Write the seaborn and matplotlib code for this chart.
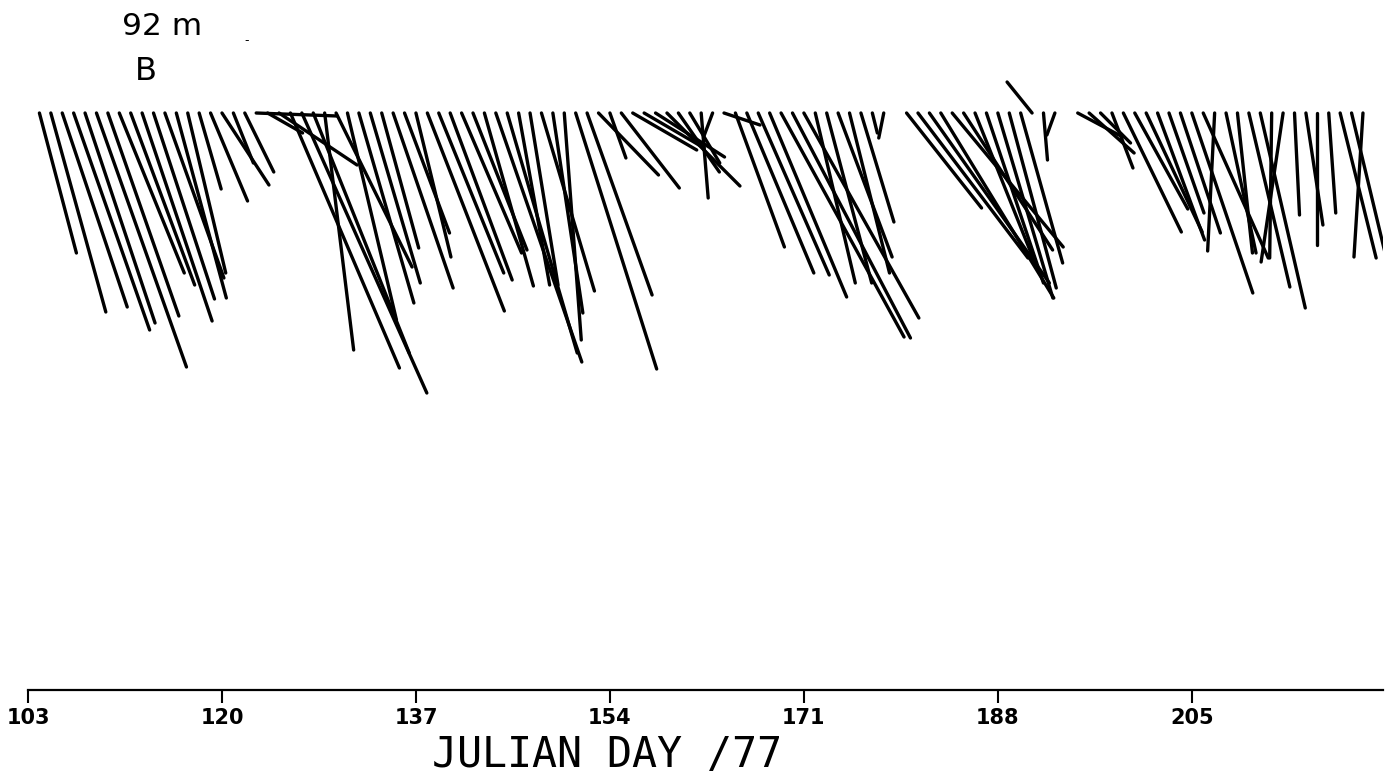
import matplotlib
matplotlib.use("Agg")
import matplotlib.pyplot as plt
import numpy as np
import pandas as pd
import seaborn as sns

# ---- data: daily current vectors (east u, north v) in cm/s at 92 m, station B ----
days_a = [104, 105, 106, 107, 108, 109, 110, 111, 112, 113, 114, 115, 116, 117, 118, 119, 120, 121, 122]
u_a = [3.7, 5.5, 6.5, 7.6, 7.0, 9.0, 7.1, 6.5, 6.4, 7.0, 6.1, 5.9, 5.0, 3.8, 2.2, 3.7, 4.7, 2.0, 2.9]
v_a = [-14.0, -19.9, -19.4, -21.7, -21.0, -25.4, -20.3, -16.0, -17.2, -20.8, -18.6, -16.5, -18.5, -16.0,
       -7.6, -8.8, -7.2, -5.0, -5.9]

days_b = [123, 124, 125, 126, 127, 128, 129, 130, 131, 132, 133, 134, 135, 136, 137, 138, 139, 140, 141, 142,
          143, 144, 145, 146, 147, 148, 149, 150, 151, 152, 153, 154, 155, 156, 157, 158, 159, 160, 161, 162,
          163, 164, 165, 166, 167, 168, 169, 170, 171, 172, 173, 174, 175, 176, 177, 178]
u_b = [8.1, 3.5, 7.8, 10.9, 12.5, 9.6, 2.9, 7.6, 4.9, 5.5, 5.0, 3.7, 6.0, 4.5, 3.5, 7.7, 6.5, 6.2, 6.0, 5.4,
       4.9, 8.6, 7.0, 3.1, 2.8, 5.3, 3.0, 1.7, 8.1, 6.5, 6.0, 1.6, 5.8, 6.4, 6.0, 6.9, 7.3, 4.1, 3.0, 0.7,
       -0.9, 3.6, 4.9, 6.7, 7.1, 7.7, 12.3, 11.8, 11.5, 4.0, 4.5, 5.4, 4.0, 3.3, 0.5, -0.5]
v_b = [-0.3, -2.0, -5.2, -25.5, -28.0, -24.0, -23.7, -15.4, -20.7, -19.0, -17.0, -13.5, -17.5, -12.0, -14.4,
       -19.8, -16.0, -16.7, -14.0, -13.7, -17.3, -24.9, -24.0, -17.2, -17.2, -17.8, -20.0, -22.7, -25.6,
       -18.2, -6.2, -4.5, -7.5, -3.7, -3.5, -4.4, -7.3, -5.9, -5.0, -8.5, -2.4, -1.2, -13.4, -16.0, -16.2,
       -18.4, -22.4, -22.5, -20.5, -17.0, -17.0, -14.4, -16.0, -10.9, -2.0, -2.5]

days_c = [180, 181, 182, 183, 184, 185, 186, 187, 188, 189, 190, 191, 192, 193]
u_c = [7.5, 11.0, 12.0, 11.3, 11.1, 8.9, 6.0, 5.7, 5.5, 4.7, 4.2, -2.5, 0.4, -0.8]
v_c = [-9.5, -14.5, -17.0, -18.5, -13.4, -13.7, -15.0, -17.0, -18.5, -17.5, -15.0, 3.1, -4.7, -2.2]

days_d = [195, 196, 197, 198, 199, 200, 201, 202, 203, 204, 205, 206, 207, 208, 209, 210, 211, 212, 213,
          214, 215, 216, 217, 218, 219, 220]
u_d = [4.5, 4.5, 3.0, 2.1, 5.8, 5.3, 5.6, 4.7, 3.5, 4.0, 6.1, 6.5, -0.7, 3.0, 1.5, 4.1, 4.5, -0.2, -2.2,
       0.5, 1.7, 0.0, 0.7, 3.6, 3.4, -0.9]
v_d = [-2.4, -4.0, -3.0, -5.5, -11.9, -9.6, -11.9, -12.7, -10.0, -12.0, -18.0, -14.5, -13.8, -14.0, -14.0,
       -17.4, -19.5, -14.5, -14.9, -10.2, -11.2, -13.2, -10.0, -14.5, -14.2, -14.4]

tick_days = [103, 120, 137, 154, 171, 188, 205]
tick_labels = ["103", "120", "137", "154", "171", "188", "205"]

# ---- build long-form table of stick segments ----
days = days_a + days_b + days_c + days_d
u = u_a + u_b + u_c + u_d
v = v_a + v_b + v_c + v_d

W, H = 1390, 774
px_per_day = 11.41
px_per_cms = 10.0
k = px_per_cms / px_per_day  # days of x-axis per cm/s of east velocity

rows = []
for i, (d, ue, vn) in enumerate(zip(days, u, v)):
    rows.append({"id": i, "order": 0, "x": d, "y": 0.0})
    rows.append({"id": i, "order": 1, "x": d + ue * k, "y": vn})
df = pd.DataFrame(rows)

sns.set_theme(style="white")
plt.rcParams["font.family"] = ["DejaVu Sans"]

fig = plt.figure(figsize=(W / 100, H / 100), dpi=100)
ax_left, ax_right = 28, 1383
ax_bottom_px, ax_top_px = 690, 60
ax = fig.add_axes([ax_left / W, (H - ax_bottom_px) / H,
                   (ax_right - ax_left) / W, (ax_bottom_px - ax_top_px) / H])

sns.lineplot(data=df, x="x", y="y", units="id", estimator=None, sort=False,
             color="black", linewidth=2.4, legend=False, ax=ax)

ax.set_xlim(103, 103 + (ax_right - ax_left) / px_per_day)
ymax = (113 - ax_top_px) / px_per_cms
ymin = -(ax_bottom_px - 113) / px_per_cms
ax.set_ylim(ymin, ymax)

for s in ["left", "top", "right"]:
    ax.spines[s].set_visible(False)
ax.spines["bottom"].set_color("black")
ax.spines["bottom"].set_linewidth(1.6)
ax.set_yticks([])
ax.set_xticks(tick_days)
ax.set_xticklabels(tick_labels, fontweight="bold")
ax.tick_params(axis="x", direction="out", length=9, width=1.5, pad=4,
               labelsize=15, colors="black", bottom=True)
ax.set_xlabel("")
ax.set_ylabel("")
ax.set_facecolor("white")

fig.text(607 / W, (H - 767) / H, "JULIAN DAY /77", ha="center", va="baseline",
         fontsize=30, color="black", family=["DejaVu Sans Mono"])
fig.text(122 / W, (H - 35) / H, "92 m", ha="left", va="baseline", fontsize=22.5, color="black")
fig.text(135 / W, (H - 80) / H, "B", ha="left", va="baseline", fontsize=23, color="black")
fig.text(247 / W, (H - 44) / H, "-", ha="center", va="baseline", fontsize=9, color="black")

fig.savefig("out.png", dpi=100, facecolor="white")
